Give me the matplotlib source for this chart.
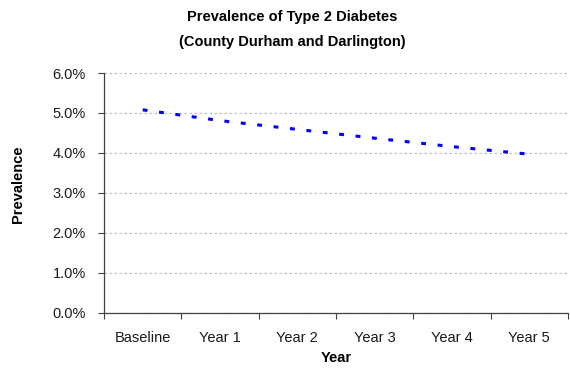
import matplotlib
matplotlib.use("Agg")
import matplotlib.pyplot as plt
from matplotlib.ticker import FixedLocator, PercentFormatter

years = ["Baseline", "Year 1", "Year 2", "Year 3", "Year 4", "Year 5"]
prevalence = [5.08, 4.81, 4.59, 4.37, 4.16, 3.97]
y_ticks = [0, 1, 2, 3, 4, 5, 6]

plt.rcParams["font.family"] = ["Liberation Sans", "DejaVu Sans"]

fig = plt.figure(figsize=(5.7, 3.69), dpi=100)
ax = fig.add_axes([104 / 570, 1 - 313 / 369, 464 / 570, 240 / 369])

x = list(range(len(years)))
ax.plot(x, prevalence, color="#0000ff", linewidth=2.2,
        linestyle=(0, (1.6, 3.8)), dash_capstyle="butt")

ax.set_xlim(-0.5, len(years) - 0.5)
ax.set_ylim(0, 6)
ax.set_yticks(y_ticks)
ax.yaxis.set_major_formatter(PercentFormatter(decimals=1))
ax.set_xticks(x)
ax.set_xticklabels(years)
ax.xaxis.set_minor_locator(FixedLocator([i - 0.5 for i in range(len(years) + 1)]))
ax.tick_params(axis="x", which="major", length=0, pad=13, labelsize=10.5,
               labelcolor="#1a1a1a")
ax.tick_params(axis="x", which="minor", length=4, width=0.8, color="#404040", direction="out")
ax.tick_params(axis="y", length=4, width=0.8, color="#404040", labelsize=10.5,
               labelcolor="#1a1a1a", pad=9)

ax.grid(axis="y", color="#c0c0c0", linestyle=(0, (2, 2)), linewidth=0.9)
ax.set_axisbelow(True)
for side in ("top", "right"):
    ax.spines[side].set_visible(False)
for side in ("left", "bottom"):
    ax.spines[side].set_color("#404040")
    ax.spines[side].set_linewidth(0.9)

fig.text(292 / 570, 1 - 17 / 369, "Prevalence of Type 2 Diabetes",
         ha="center", va="center", fontsize=10.5, fontweight="bold")
fig.text(292 / 570, 1 - 42 / 369, "(County Durham and Darlington)",
         ha="center", va="center", fontsize=10.5, fontweight="bold")
fig.text(336 / 570, 1 - 358 / 369, "Year", ha="center", va="center",
         fontsize=10.5, fontweight="bold")
fig.text(18 / 570, 1 - 184 / 369, "Prevalence", ha="center", va="center",
         rotation=90, fontsize=10.5, fontweight="bold")

fig.savefig("out.png", dpi=100)
